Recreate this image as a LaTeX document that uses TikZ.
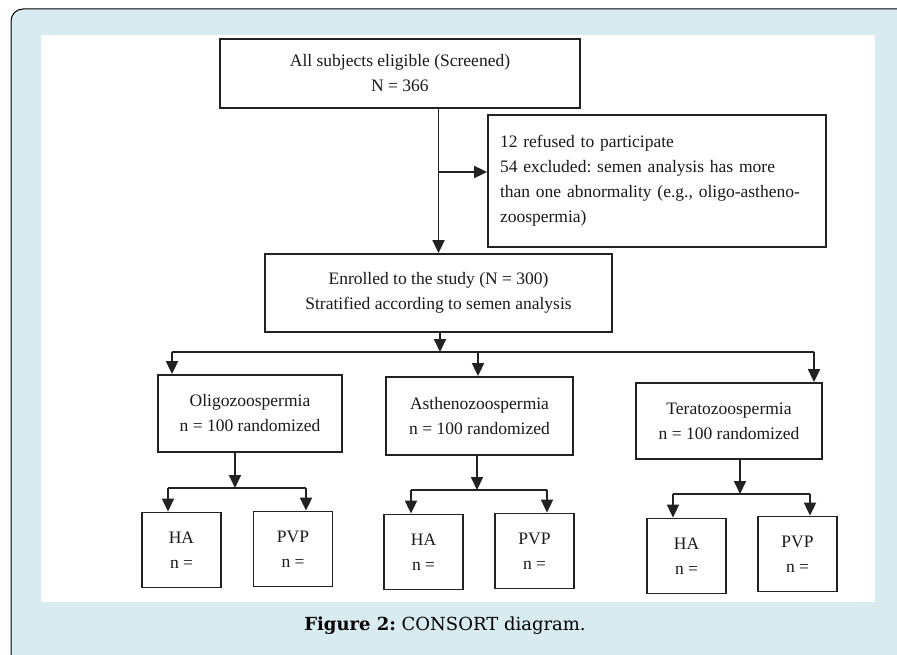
\documentclass[tikz,border=0pt]{standalone}
\usepackage{fontspec}
\setmainfont{Liberation Serif}
\newfontfamily\capfont{DejaVu Serif}
\usetikzlibrary{arrows.meta}
\definecolor{bgblue}{HTML}{D7EBF0}
\definecolor{linec}{HTML}{222222}
\definecolor{txtc}{HTML}{1A1A1A}
\frenchspacing
\begin{document}
\begin{tikzpicture}[x=1pt,y=-1pt,
  box/.style={draw=linec, line width=1.8pt, fill=white, inner sep=0pt, align=center,
    text=txtc, font=\fontsize{17.5}{25}\selectfont},
  smallbox/.style={box, minimum width=79pt, minimum height=75pt},
  arr/.style={draw=linec, line width=1.8pt, -{Triangle[length=13pt,width=12pt]}},
  ln/.style={draw=linec, line width=1.8pt}]
\useasboundingbox (0,0) rectangle (897,655);
\clip (0,0) rectangle (897,655);
\fill[white] (0,0) rectangle (897,655);
\fill[bgblue, rounded corners=12pt] (11,700) -- (11,9) -- (920,9) -- (920,700) -- cycle;
\draw[line width=1pt, rounded corners=12pt] (11,700) -- (11,9) -- (920,9);
\fill[white] (41,35) rectangle (875,602);

% main nodes
\node[box, minimum width=360pt, minimum height=69pt] (top) at (400,73.5)
  {All subjects eligible (Screened)\\N = 366};
\node[box, minimum width=338pt, minimum height=132pt, text width=314pt, inner xsep=12pt, align=left] (excl) at (657,181)
  {12 refused to participate\\54 excluded: semen analysis has more\\than one abnormality (e.g., oligo-astheno-\\zoospermia)};
\node[box, minimum width=347pt, minimum height=78pt] (enr) at (438.5,293)
  {Enrolled to the study (N = 300)\\Stratified according to semen analysis};
\node[box, minimum width=184pt, minimum height=77pt] (oligo) at (250,413.5)
  {Oligozoospermia\\n = 100 randomized};
\node[box, minimum width=187pt, minimum height=78pt] (asth) at (479.5,416)
  {Asthenozoospermia\\n = 100 randomized};
\node[box, minimum width=186pt, minimum height=76pt] (tera) at (729,421)
  {Teratozoospermia\\n = 100 randomized};

\node[smallbox] (ha1) at (181.5,550) {HA\\n =};
\node[smallbox] (pvp1) at (293,549) {PVP\\n =};
\node[smallbox] (ha2) at (423.5,552) {HA\\n =};
\node[smallbox] (pvp2) at (534.5,551) {PVP\\n =};
\node[smallbox] (ha3) at (686.5,556) {HA\\n =};
\node[smallbox] (pvp3) at (797.5,554) {PVP\\n =};

% connectors
\draw[arr] (top.south -| enr.north) -- (enr.north);
\coordinate (b1) at (438.5,172);
\draw[arr] (b1) -- (b1 -| excl.west);

\coordinate (h1) at (440,352);
\coordinate (hl) at (172,352);
\coordinate (hm) at (478,352);
\coordinate (hr) at (814,352);
\draw[arr] (enr.south -| h1) -- (h1);
\draw[ln] (hl) -- (hr);
\draw[arr] (hl) -- (hl |- oligo.north);
\draw[arr] (hm) -- (hm |- asth.north);
\draw[arr] (hr) -- (hr |- tera.north);

\coordinate (o1) at (235,488);
\coordinate (o1l) at (168,488);
\coordinate (o1r) at (306,488);
\draw[arr] (oligo.south -| o1) -- (o1);
\draw[ln] (o1l) -- (o1r);
\draw[arr] (o1l) -- (o1l |- ha1.north);
\draw[arr] (o1r) -- (o1r |- pvp1.north);

\coordinate (o2) at (477,490);
\coordinate (o2l) at (411,490);
\coordinate (o2r) at (547,490);
\draw[arr] (asth.south -| o2) -- (o2);
\draw[ln] (o2l) -- (o2r);
\draw[arr] (o2l) -- (o2l |- ha2.north);
\draw[arr] (o2r) -- (o2r |- pvp2.north);

\coordinate (o3) at (740,494);
\coordinate (o3l) at (673,494);
\coordinate (o3r) at (810,494);
\draw[arr] (tera.south -| o3) -- (o3);
\draw[ln] (o3l) -- (o3r);
\draw[arr] (o3l) -- (o3l |- ha3.north);
\draw[arr] (o3r) -- (o3r |- pvp3.north);

\node[font=\capfont\fontsize{18}{22}\selectfont, text=black] (cap) at (445,626)
  {\textbf{Figure 2:} CONSORT diagram.};
\end{tikzpicture}
\end{document}
